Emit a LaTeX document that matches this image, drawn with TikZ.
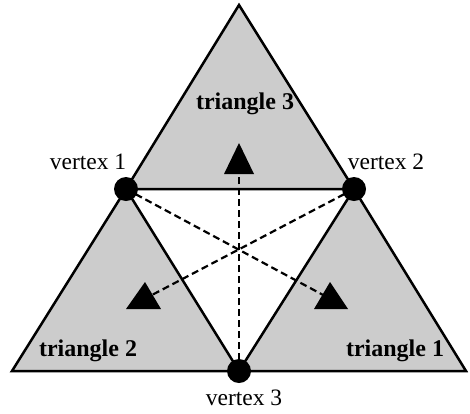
\documentclass[tikz,border=0pt]{standalone}
\usepackage{fontspec}
\setmainfont{Liberation Serif}
\usetikzlibrary{calc}
\pgfdeclarelayer{bg}
\pgfsetlayers{bg,main}
\tikzset{
  shadetri/.style={fill=black!20, draw=black, line width=2.5pt, line join=miter},
  dashconn/.style={draw=black, line width=2.2pt, dash pattern=on 7pt off 4pt},
  vdot/.style={circle, fill=black, minimum size=24pt, inner sep=0pt},
  tmarker/.style={fill=black},
  vlabel/.style={font=\fontsize{23.5}{26}\selectfont, inner sep=0pt},
  tlabel/.style={font=\fontsize{24}{26}\selectfont\bfseries, inner sep=0pt},
}
\begin{document}
\begin{tikzpicture}[x=1pt,y=-1pt]
\useasboundingbox (0,0) rectangle (470,413);
% corners
\coordinate (top) at (239,5);
\coordinate (bl) at (12,371);
\coordinate (br) at (466,371);
% marker positions (base centres)
\coordinate (m3) at (239,174);
\coordinate (m2) at (144,309);
\coordinate (m1) at (331,309);
\coordinate (m2tip) at (150,296);
\coordinate (m1tip) at (325,296);
% vertices
\node[vdot] (v1) at (126,189) {};
\node[vdot] (v2) at (354,189) {};
\node[vdot] (v3) at (239,371) {};
% labels
\node[vlabel] (l1) at (88,162) {vertex 1};
\node[vlabel] (l2) at (386,162) {vertex 2};
\node[vlabel] (l3) at (244,398) {vertex 3};
\node[tlabel] (t3) at (245,104) {triangle 3};
\node[tlabel] (t2) at (88,351) {triangle 2};
\node[tlabel] (t1) at (395,351) {triangle 1};
\begin{pgfonlayer}{bg}
  \draw[shadetri] (top) -- (v1.center) -- (v2.center) -- cycle;
  \draw[shadetri] (v1.center) -- (bl) -- (v3.center) -- cycle;
  \draw[shadetri] (v2.center) -- (v3.center) -- (br) -- cycle;
  \draw[dashconn] (v3.center) -- (m3);
  \draw[dashconn] (v2.center) -- (m2tip);
  \draw[dashconn] (v1.center) -- (m1tip);
  \fill[tmarker] (m3) ++(-15,0) -- ++(15,-31) -- ++(15,31) -- cycle;
  \fill[tmarker] (m2) ++(-18,0) -- ++(19,-27) -- ++(16,27) -- cycle;
  \fill[tmarker] (m1) ++(-17,0) -- ++(16,-27) -- ++(18,27) -- cycle;
\end{pgfonlayer}
\end{tikzpicture}
\end{document}
